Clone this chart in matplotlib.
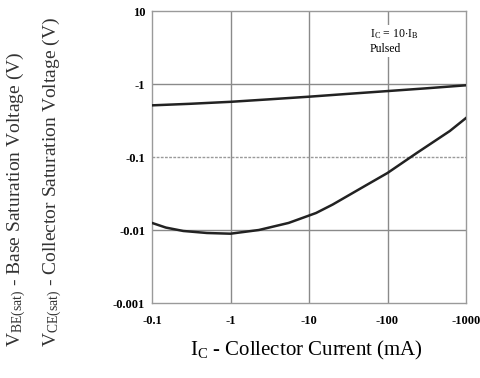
import matplotlib
matplotlib.use("Agg")
import matplotlib.pyplot as plt

ic_vbe = [0.1, 0.3, 1, 3, 10, 30, 100, 300, 1000]
vbe = [0.51, 0.535, 0.57, 0.615, 0.67, 0.73, 0.80, 0.87, 0.96]

ic_vce = [0.1, 0.15, 0.25, 0.5, 1, 2.3, 5.5, 7.5, 12.3, 20, 54, 100, 236, 622, 1000]
vce = [0.0125, 0.0108, 0.0097, 0.0091, 0.0089, 0.0100, 0.0125, 0.0141, 0.0171, 0.0223, 0.0413, 0.0604, 0.1135, 0.227, 0.342]

xticks = [0.1, 1, 10, 100, 1000]
xticklabels = ["-0.1", "-1", "-10", "-100", "-1000"]
yticks = [0.001, 0.01, 0.1, 1, 10]
yticklabels = ["-0.001", "-0.01", "-0.1", "-1", "10"]

plt.rcParams['font.family'] = ['Liberation Serif', 'DejaVu Serif']
plt.rcParams['mathtext.fontset'] = 'custom'
plt.rcParams['mathtext.rm'] = 'Liberation Serif'
plt.rcParams['mathtext.it'] = 'Liberation Serif'
plt.rcParams['mathtext.bf'] = 'Liberation Serif:bold'

W, H = 481, 378
fig = plt.figure(figsize=(W/100, H/100), dpi=100)
ax = fig.add_axes([152/W, 1-303/H, (466-152)/W, (303-11)/H])

ax.set_xscale('log')
ax.set_yscale('log')
ax.set_xlim(0.1, 1000)
ax.set_ylim(0.001, 10)

for v in [1, 10, 100]:
    ax.axvline(v, color='#8a8a8a', lw=1.0, zorder=1)
ax.axhline(1, color='#8a8a8a', lw=1.0, zorder=1)
ax.axhline(0.01, color='#8a8a8a', lw=1.0, zorder=1)
ax.axhline(0.1, color='#9a9a9a', lw=1.0, ls=(0, (2, 1)), zorder=1)

ax.plot(ic_vbe, vbe, color='#222222', lw=1.8, solid_joinstyle='round', zorder=3)
ax.plot(ic_vce, vce, color='#222222', lw=1.8, solid_joinstyle='round', zorder=3)

ax.set_xticks(xticks)
ax.set_xticklabels(xticklabels, fontsize=9, fontweight='bold')
ax.set_yticks(yticks)
ax.set_yticklabels(yticklabels, fontsize=9, fontweight='bold')
ax.minorticks_off()
ax.tick_params(axis='x', length=0, pad=9)
ax.tick_params(axis='y', length=0, pad=5)

for s in ax.spines.values():
    s.set_linestyle((0, (2, 1)))
    s.set_color('#9a9a9a')
    s.set_linewidth(1.0)

bb = dict(facecolor='white', edgecolor='none', pad=1.5)
ax.text(370/W, 1-34/H, r"I$_\mathrm{C}$ = 10$\cdot$I$_\mathrm{B}$", transform=fig.transFigure,
        fontsize=8.5, va='center', ha='left', bbox=bb, zorder=4)
ax.text(370/W, 1-49/H, "Pulsed", transform=fig.transFigure,
        fontsize=8.5, va='center', ha='left', bbox=bb, zorder=4)

fig.text(306/W, 1-350/H, r"I$_\mathrm{C}$ - Collector Current (mA)", fontsize=15,
         ha='center', va='center')

fig.text(16/W, 1-347/H, r"V$_\mathrm{BE(sat)}$ - Base Saturation Voltage (V)", rotation=90,
         fontsize=14, ha='center', va='bottom', color='#333333')
fig.text(52/W, 1-347/H, r"V$_\mathrm{CE(sat)}$ - Collector Saturation Voltage (V)", rotation=90,
         fontsize=14, ha='center', va='bottom', color='#333333')

fig.savefig("out.png", dpi=100)
